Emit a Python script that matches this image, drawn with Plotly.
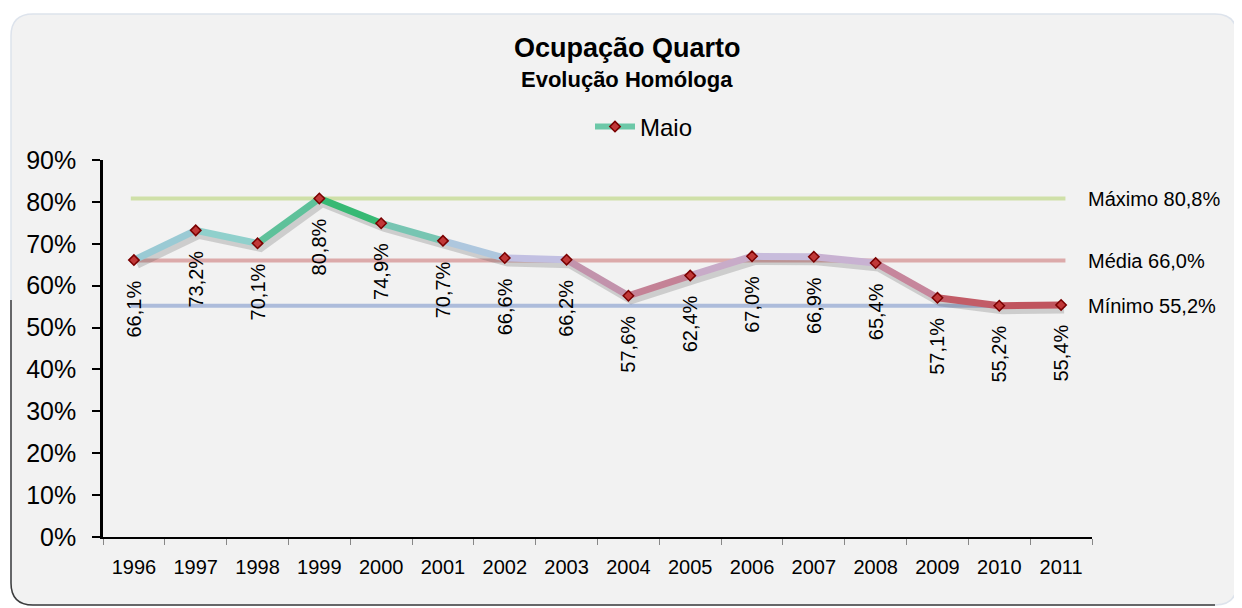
import plotly.graph_objects as go

years = ["1996", "1997", "1998", "1999", "2000", "2001", "2002", "2003",
         "2004", "2005", "2006", "2007", "2008", "2009", "2010", "2011"]
maio = [66.1, 73.2, 70.1, 80.8, 74.9, 70.7, 66.6, 66.2,
        57.6, 62.4, 67.0, 66.9, 65.4, 57.1, 55.2, 55.4]
ref_names = ["Máximo", "Média", "Mínimo"]
ref_values = [80.8, 66.0, 55.2]
ref_colors = ["#cfe0a8", "#dcaaaa", "#adbcdb"]
series_name = "Maio"
title_main = "Ocupação Quarto"
title_sub = "Evolução Homóloga"

point_colors = ["#b4c4e8", "#80d0c0", "#a0d0d8", "#1db35c", "#52bf8c", "#9ccbd8",
                "#c0c4e4", "#c4bce0", "#c06a78", "#c89ab4", "#c8bcdc", "#c8bcdc",
                "#c8a8c8", "#c46470", "#c0545e", "#c0545e"]

OFF = 8  # page margin offset
W, H = 1242 - OFF, 608 - OFF
L, R, T, B = 103 - OFF, 1092 - OFF, 160 - OFF, 537 - OFF
PW, PH = R - L, B - T
YMAX = 90


def px_x(p):
    return (p - OFF - L) / PW


def px_y(p):
    return (B - (p - OFF)) / PH


def mix(c1, c2):
    a = [int(c1[i:i + 2], 16) for i in (1, 3, 5)]
    b = [int(c2[i:i + 2], 16) for i in (1, 3, 5)]
    return "#" + "".join(f"{(x + y) // 2:02x}" for x, y in zip(a, b))


xs = list(range(len(years)))
fig = go.Figure()

# reference lines
for name, val, col in zip(ref_names, ref_values, ref_colors):
    fig.add_trace(go.Scatter(x=[xs[0] - 0.05, xs[-1] + 0.07], y=[val, val], mode="lines",
                             line=dict(color=col, width=4), showlegend=False,
                             hoverinfo="skip"))

# shadow
dx = 3 * len(years) / PW
dy = 4 * YMAX / PH
fig.add_trace(go.Scatter(x=[x + dx for x in xs], y=[v - dy for v in maio], mode="lines",
                         line=dict(color="rgba(60,60,60,0.2)", width=9),
                         showlegend=False, hoverinfo="skip"))

# gradient-ish line segments
for i in range(len(xs) - 1):
    fig.add_trace(go.Scatter(x=[xs[i], xs[i + 1]], y=[maio[i], maio[i + 1]], mode="lines",
                             line=dict(color=mix(point_colors[i], point_colors[i + 1]), width=7),
                             showlegend=False, hoverinfo="skip"))

# markers
fig.add_trace(go.Scatter(x=xs, y=maio, mode="markers",
                         marker=dict(symbol="diamond", size=8, color="#c03838",
                                     line=dict(color="#7a0000", width=1.5)),
                         showlegend=False))

# legend entry
fig.add_trace(go.Scatter(x=[None], y=[None], mode="lines+markers", name=series_name,
                         line=dict(color="#6cc8a8", width=6),
                         marker=dict(symbol="diamond", size=8, color="#c03838",
                                     line=dict(color="#7a0000", width=1.5))))

annotations = []
for x, v in zip(xs, maio):
    annotations.append(dict(x=x, y=v, xref="x", yref="y", text=f"{v:.1f}%".replace(".", ","),
                            textangle=-90, showarrow=False, yanchor="top", xanchor="center",
                            yshift=-18, font=dict(size=20, color="#000000")))
for name, val in zip(ref_names, ref_values):
    annotations.append(dict(x=px_x(1086), y=val, xref="paper", yref="y",
                            text=f"{name} {val:.1f}%".replace(".", ","), showarrow=False,
                            xanchor="left", yanchor="middle",
                            font=dict(size=20, color="#000000")))
annotations.append(dict(x=px_x(627), y=px_y(48), xref="paper", yref="paper", text=f"<b>{title_main}</b>",
                        showarrow=False, xanchor="center", yanchor="middle",
                        font=dict(size=27, color="#000000")))
annotations.append(dict(x=px_x(627), y=px_y(80), xref="paper", yref="paper", text=f"<b>{title_sub}</b>",
                        showarrow=False, xanchor="center", yanchor="middle",
                        font=dict(size=22, color="#000000")))

# card background
r = 22
x0, x1, y0, y1 = 11, 1237, 14, 605
card = (f"M {px_x(x0 + r)} {px_y(y0)} L {px_x(x1 - r)} {px_y(y0)} "
        f"Q {px_x(x1)} {px_y(y0)} {px_x(x1)} {px_y(y0 + r)} L {px_x(x1)} {px_y(y1 - r)} "
        f"Q {px_x(x1)} {px_y(y1)} {px_x(x1 - r)} {px_y(y1)} L {px_x(x0 + r)} {px_y(y1)} "
        f"Q {px_x(x0)} {px_y(y1)} {px_x(x0)} {px_y(y1 - r)} L {px_x(x0)} {px_y(y0 + r)} "
        f"Q {px_x(x0)} {px_y(y0)} {px_x(x0 + r)} {px_y(y0)} Z")
edge = (f"M {px_x(x0)} {px_y(300)} L {px_x(x0)} {px_y(y1 - r)} "
        f"Q {px_x(x0)} {px_y(y1)} {px_x(x0 + r)} {px_y(y1)} L {px_x(x1 - r)} {px_y(y1)}")
shapes = [
    dict(type="path", path=card, xref="paper", yref="paper", fillcolor="#f2f2f2",
         line=dict(color="#dde3ec", width=1.5), layer="below"),
    dict(type="path", path=edge, xref="paper", yref="paper",
         line=dict(color="#3c3c3c", width=1.5), layer="below"),
]

fig.update_layout(
    width=W, height=H,
    margin=dict(l=L, r=W - R, t=T, b=H - B, pad=0),
    paper_bgcolor="#ffffff", plot_bgcolor="rgba(0,0,0,0)",
    font=dict(family="Liberation Sans, Arial, sans-serif", color="#000000"),
    showlegend=True,
    legend=dict(x=px_x(590), y=px_y(127), xanchor="left", yanchor="middle",
                orientation="h", bgcolor="rgba(0,0,0,0)", font=dict(size=24),
                itemwidth=40),
    xaxis=dict(range=[-0.5, len(years) - 0.5], tickvals=xs, ticktext=years, ticks="",
               showgrid=False, zeroline=False, showline=True, linecolor="#000000", linewidth=1.5,
               tickfont=dict(size=20), ticklabelstandoff=11,
               minor=dict(tick0=-0.5, dtick=1, ticks="outside", ticklen=6, tickcolor="#888888",
                          tickwidth=1, showgrid=False)),
    yaxis=dict(range=[0, YMAX], dtick=10, ticksuffix="%", ticks="outside", ticklen=8,
               tickcolor="#000000", tickwidth=1.5, showgrid=False, zeroline=False,
               showline=True, linecolor="#000000", linewidth=2.5,
               tickfont=dict(size=25), ticklabelstandoff=11),
    annotations=annotations,
    shapes=shapes,
)

fig.write_html("out.html")
